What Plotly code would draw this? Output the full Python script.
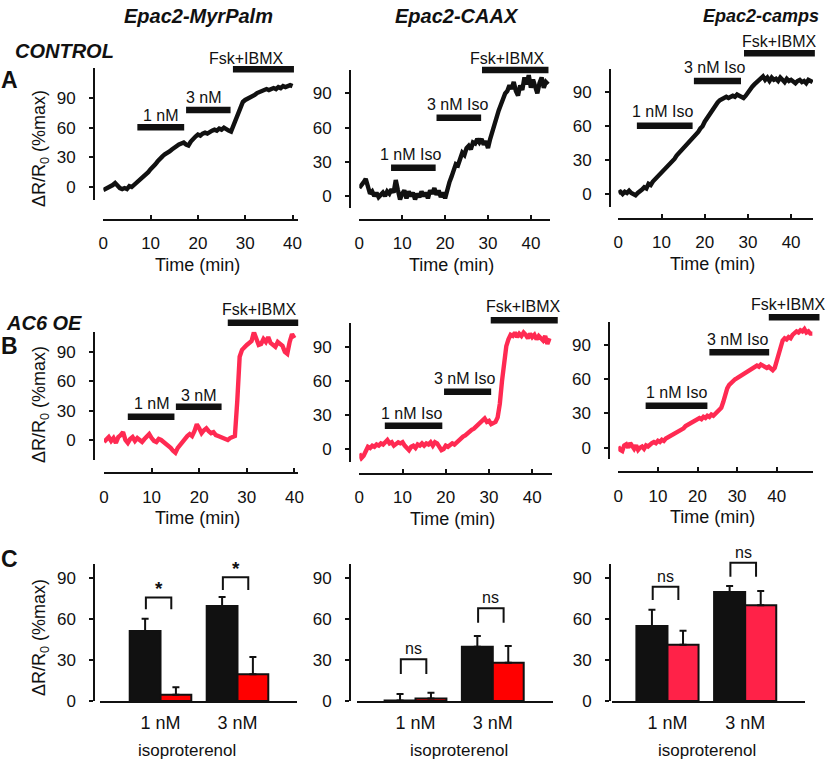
import plotly.graph_objects as go

# ---------------- data ----------------
STEP = 0.5  # sampling interval of the traces (min)

# Row A: CONTROL (black traces)
a1_myrpalm = [-3, -2, -1, 0, 2, 4, 1, -1, -2, -1, -2, 1, 0, 2, 4, 6, 8, 11, 13, 15,
              18, 20, 23, 26, 29, 31, 33, 34, 36, 38, 40, 41, 43, 44, 45, 43, 42, 46, 49, 51,
              53, 52, 54, 55, 54, 56, 57, 58, 57, 59, 58, 60, 58, 57, 56, 62, 70, 76, 82, 86,
              88, 89, 91, 92, 93, 95, 96, 97, 98, 99, 98, 99, 100, 99, 101, 100, 102, 101, 102, 103,
              102]
a2_caax = [7, 9, 12, 15, 8, 2, 4, 0, 3, -1, 1, 3, 0, 4, 2, 6, 3, 14, 5, -3,
           2, 5, -2, 4, 0, 3, -3, 2, -1, 4, 0, 3, -2, 5, 2, 7, 1, 5, -1, 3,
           -2, 6, 12, 17, 22, 28, 27, 34, 38, 36, 42, 44, 41, 47, 46, 50, 47, 50, 45, 48,
           42, 50, 57, 64, 70, 75, 80, 85, 90, 92, 97, 94, 100, 92, 88, 97, 93, 104, 98, 106,
           95, 102, 96, 90, 99, 104, 95, 100, 98]
a3_camps = [1, 2, 0, 2, 1, 3, 1, 0, -1, 1, 2, 4, 6, 5, 9, 8, 11, 13, 14, 16,
            18, 20, 22, 24, 27, 29, 31, 34, 36, 38, 41, 43, 45, 47, 49, 50, 53, 55, 58, 60,
            64, 67, 70, 73, 76, 79, 81, 83, 84, 85, 86, 85, 86, 87, 86, 88, 87, 86, 85, 87,
            90, 93, 95, 97, 99, 101, 102, 104, 101, 103, 100, 103, 101, 102, 100, 103, 101, 99, 102, 100,
            101, 99, 98, 100, 101, 99, 100, 98, 101, 100, 99]

# Row B: AC6 OE (red traces)
b1_myrpalm = [-2, 1, 3, -1, 2, -3, 3, 5, 8, 0, -3, 1, 3, -1, 2, 0, -2, 1, 3, 6,
              2, -1, -2, 1, 0, -2, -3, -5, -8, -11, -13, -8, -5, -1, 2, 4, 6, 4, 9, 16,
              12, 7, 10, 12, 9, 7, 8, 5, 4, 3, 2, 1, 0, 2, 3, 4, 40, 85, 92, 95,
              97, 99, 101, 110, 104, 97, 98, 103, 100, 105, 99, 97, 95, 100, 98, 96, 90, 88, 100, 108,
              104]
b2_caax = [-4, -8, -6, -1, 2, 1, 3, 2, 4, 3, 5, 4, 6, 8, 5, 6, 3, 4, 6, 5,
           6, 3, 1, -1, 2, 3, 1, 4, 3, 5, 3, 5, 4, 6, 3, 6, 5, 2, -1, 0,
           3, 2, 4, 5, 4, 6, 8, 9, 11, 12, 14, 15, 17, 18, 20, 21, 23, 25, 27, 24,
           25, 22, 23, 24, 28, 40, 60, 78, 91, 97, 101, 100, 103, 99, 102, 100, 103, 101, 98, 102,
           99, 101, 97, 100, 98, 96, 100, 93, 98]
b3_camps = [1, -2, -3, 2, 3, 0, 4, 1, -1, 2, -2, 0, 1, -1, 2, 1, 3, 4, 5, 4,
            6, 5, 7, 6, 8, 9, 10, 11, 11, 13, 14, 15, 16, 17, 19, 20, 21, 22, 23, 24,
            24, 26, 25, 27, 26, 28, 27, 29, 28, 30, 31, 33, 35, 40, 47, 52, 55, 57, 58, 60,
            61, 62, 63, 64, 66, 67, 68, 68, 70, 71, 72, 71, 73, 72, 71, 70, 71, 69, 68, 70,
            76, 83, 90, 94, 96, 95, 97, 96, 99, 100, 102, 101, 103, 102, 104, 101, 102, 100, 100]

# Drug applications: (label, start min, end min, bar level, label centre min, label level)
a1_drugs = [("1 nM", 7.2, 17.1, 60.4, 12.1, 71.8), ("3 nM", 17.5, 26.9, 77.9, 21.3, 90.3),
            ("Fsk+IBMX", 27.4, 40.3, 119.0, 30.2, 130.0)]
a2_drugs = [("1 nM Iso", 7.4, 17.8, 24.8, 12.0, 36.8), ("3 nM Iso", 18.0, 28.4, 68.7, 22.8, 80.4),
            ("Fsk+IBMX", 28.6, 44.1, 110.5, 34.6, 120.8)]
a3_drugs = [("1 nM Iso", 4.3, 17.2, 60.4, 10.2, 72.8), ("3 nM Iso", 17.5, 28.4, 100.0, 22.2, 111.8),
            ("Fsk+IBMX", 29.1, 45.5, 124.5, 37.4, 134.8)]
b1_drugs = [("1 nM", 5.0, 14.8, 23.8, 10.1, 37.4), ("3 nM", 15.1, 24.7, 34.0, 20.0, 45.9),
            ("Fsk+IBMX", 26.0, 40.8, 119.7, 32.6, 133.4)]
b2_drugs = [("1 nM Iso", 5.9, 19.2, 20.6, 12.0, 31.6), ("3 nM Iso", 19.6, 30.5, 50.7, 24.4, 62.6),
            ("Fsk+IBMX", 30.4, 45.9, 114.0, 37.9, 126.0)]
b3_drugs = [("1 nM Iso", 6.9, 22.5, 36.8, 14.7, 48.6), ("3 nM Iso", 23.0, 38.1, 83.7, 30.2, 94.5),
            ("Fsk+IBMX", 38.0, 50.8, 114.4, 43.0, 126.0)]

# Row C: summary bars
conc = ["1 nM", "3 nM"]
c1_control, c1_control_err = [51.4, 69.7], [9.0, 6.6]
c1_oe, c1_oe_err = [4.5, 19.6], [5.5, 12.7]
c2_control, c2_control_err = [0.3, 39.8], [4.8, 7.9]
c2_oe, c2_oe_err = [1.8, 28.1], [4.2, 12.2]
c3_control, c3_control_err = [55.0, 80.0], [12.0, 4.4]
c3_oe, c3_oe_err = [41.3, 70.3], [10.3, 10.4]
# significance brackets: (category index, leg bottom, bracket top, label)
c1_sig = [(0, 67.3, 76.0, "*"), (1, 81.5, 90.8, "*")]
c2_sig = [(0, 19.8, 30.6, "ns"), (1, 57.4, 68.0, "ns")]
c3_sig = [(0, 74.0, 83.8, "ns"), (1, 91.2, 101.5, "ns")]

time_ticks = [0, 10, 20, 30, 40]
value_ticks = [0, 30, 60, 90]
titles = ["Epac2-MyrPalm", "Epac2-CAAX", "Epac2-camps"]

# ---------------- layout geometry (pixels) ----------------
W, H = 828, 761
FONT = "Arial, 'Liberation Sans', Helvetica, sans-serif"
BLACK = "#111111"
RED_LINE = "#FF2A52"
RED_BAR = "#FF0000"
RED_BAR3 = "#FF2248"

P = {
    1: dict(xpx=(103.3, 298.2), xr=(0, 41.2), ypx=(68, 200), yr=(-13.1, 120.3), yline=94, xline=220),
    2: dict(xpx=(359.3, 550.2), xr=(0, 44.5), ypx=(70, 208), yr=(-10.5, 110.5), yline=350, xline=220),
    3: dict(xpx=(618.3, 813.0), xr=(0, 45.07), ypx=(69, 206.7), yr=(-11.2, 110.6), yline=610, xline=219),
    4: dict(xpx=(104, 297.5), xr=(0, 40.65), ypx=(331.7, 460), yr=(-20.4, 110.5), yline=94, xline=473.3),
    5: dict(xpx=(359.3, 551.7), xr=(0, 44.5), ypx=(323.3, 461.7), yr=(-11.2, 111.2), yline=350, xline=474),
    6: dict(xpx=(618.3, 813.3), xr=(0, 49.24), ypx=(321.7, 459.3), yr=(-10.2, 110.5), yline=609.3, xline=472.3),
    7: dict(xpx=(100, 297), xr=(-0.786, 1.773), ypx=(564, 701), yr=(0, 100.5), yline=94.3),
    8: dict(xpx=(357, 553), xr=(-0.757, 1.779), ypx=(564, 701), yr=(0, 100.5), yline=350),
    9: dict(xpx=(612, 805), xr=(-0.714, 1.77), ypx=(564, 701), yr=(0, 100.5), yline=610),
}


def fx(px):
    return px / W


def fy(py):
    return 1 - py / H


def tx(n, t):
    p = P[n]
    x0, x1 = p["xpx"]
    r0, r1 = p["xr"]
    return fx(x0 + (t - r0) / (r1 - r0) * (x1 - x0))


def vy(n, v):
    p = P[n]
    y0, y1 = p["ypx"]
    r0, r1 = p["yr"]
    return fy(y1 - (v - r0) / (r1 - r0) * (y1 - y0))


def ax_id(n, letter):
    return letter if n == 1 else f"{letter}{n}"


fig = go.Figure()
layout = dict(width=W, height=H, margin=dict(l=0, r=0, t=0, b=0, autoexpand=False),
              paper_bgcolor="white", plot_bgcolor="white", showlegend=False,
              barmode="group", bargap=0.2, bargroupgap=0.0,
              font=dict(family=FONT, color=BLACK, size=17))
shapes, annotations = [], []

# ---- traces panels ----
trace_sets = [(1, a1_myrpalm, BLACK, a1_drugs), (2, a2_caax, BLACK, a2_drugs), (3, a3_camps, BLACK, a3_drugs),
              (4, b1_myrpalm, RED_LINE, b1_drugs), (5, b2_caax, RED_LINE, b2_drugs), (6, b3_camps, RED_LINE, b3_drugs)]
for n, vals, col, drugs in trace_sets:
    p = P[n]
    times = [i * STEP for i in range(len(vals))]
    fig.add_trace(go.Scatter(x=times, y=vals, mode="lines", line=dict(color=col, width=4.4),
                             xaxis=ax_id(n, "x"), yaxis=ax_id(n, "y"), hoverinfo="skip"))
    xk = "xaxis" if n == 1 else f"xaxis{n}"
    yk = "yaxis" if n == 1 else f"yaxis{n}"
    layout[xk] = dict(domain=[fx(p["xpx"][0]), fx(p["xpx"][1])], range=list(p["xr"]),
                      anchor="free", position=fy(p["xline"]), showline=True, linewidth=2, linecolor=BLACK,
                      ticks="inside", ticklen=4, tickwidth=2, tickcolor=BLACK, tickvals=time_ticks,
                      tickfont=dict(size=17, color=BLACK), showgrid=False, zeroline=False,
                      ticklabelstandoff=8)
    layout[yk] = dict(domain=[fy(p["ypx"][1]), fy(p["ypx"][0])], range=list(p["yr"]),
                      anchor="free", position=fx(p["yline"]), showline=True, linewidth=2, linecolor=BLACK,
                      ticks="outside", ticklen=4, tickwidth=2, tickcolor=BLACK, tickvals=value_ticks,
                      tickfont=dict(size=17, color=BLACK), showgrid=False, zeroline=False,
                      ticklabelstandoff=10)
    for label, t0, t1, lvl, lt, llvl in drugs:
        shapes.append(dict(type="line", xref="paper", yref="paper", x0=tx(n, t0), x1=tx(n, t1),
                           y0=vy(n, lvl), y1=vy(n, lvl), line=dict(color=BLACK, width=6.5)))
        annotations.append(dict(text=label, xref="paper", yref="paper", x=tx(n, lt), y=vy(n, llvl),
                                xanchor="center", yanchor="middle", showarrow=False,
                                font=dict(size=16, color=BLACK)))
    # Time axis title
    cx = (p["xpx"][0] + p["xpx"][1]) / 2 - 3
    annotations.append(dict(text="Time (min)", xref="paper", yref="paper", x=fx(cx), y=fy(p["xline"] + 45),
                            xanchor="center", yanchor="middle", showarrow=False, font=dict(size=18)))

# ---- bar panels ----
bar_sets = [(7, c1_control, c1_control_err, c1_oe, c1_oe_err, RED_BAR, c1_sig),
            (8, c2_control, c2_control_err, c2_oe, c2_oe_err, RED_BAR, c2_sig),
            (9, c3_control, c3_control_err, c3_oe, c3_oe_err, RED_BAR3, c3_sig)]
for n, ctl, ctl_e, oe, oe_e, rcol, sig in bar_sets:
    p = P[n]
    for vals, errs, col in [(ctl, ctl_e, BLACK), (oe, oe_e, rcol)]:
        fig.add_trace(go.Bar(x=conc, y=vals, marker=dict(color=col, line=dict(color=BLACK, width=2)),
                             error_y=dict(type="data", array=errs, arrayminus=[0] * len(errs), symmetric=False,
                                          color=BLACK, thickness=2, width=3.5),
                             xaxis=ax_id(n, "x"), yaxis=ax_id(n, "y"), hoverinfo="skip"))
    xk, yk = f"xaxis{n}", f"yaxis{n}"
    layout[xk] = dict(domain=[fx(p["xpx"][0]), fx(p["xpx"][1])], range=list(p["xr"]), type="category",
                      anchor=ax_id(n, "y"), showline=True, linewidth=2, linecolor=BLACK, ticks="",
                      tickfont=dict(size=18, color=BLACK), showgrid=False, zeroline=False,
                      ticklabelstandoff=4)
    layout[yk] = dict(domain=[fy(p["ypx"][1]), fy(p["ypx"][0])], range=list(p["yr"]),
                      anchor="free", position=fx(p["yline"]), showline=True, linewidth=2, linecolor=BLACK,
                      ticks="outside", ticklen=4, tickwidth=2, tickcolor=BLACK, tickvals=value_ticks,
                      tickfont=dict(size=17, color=BLACK), showgrid=False, zeroline=False,
                      ticklabelstandoff=10)
    x0px, x1px = p["xpx"]
    r0, r1 = p["xr"]

    def cx(c):
        return fx(x0px + (c - r0) / (r1 - r0) * (x1px - x0px))

    for ci, lo, top, lab in sig:
        xl, xr_ = cx(ci - 0.19), cx(ci + 0.14)
        shapes.append(dict(type="path", xref="paper", yref="paper",
                           path=f"M {xl},{vy(n, lo)} L {xl},{vy(n, top)} L {xr_},{vy(n, top)} L {xr_},{vy(n, lo)}",
                           line=dict(color=BLACK, width=2)))
        is_star = lab == "*"
        annotations.append(dict(text=f"<b>{lab}</b>" if is_star else lab, xref="paper", yref="paper",
                                x=(xl + xr_) / 2, y=vy(n, top), xanchor="center", yanchor="bottom",
                                yshift=-4 if is_star else 0, showarrow=False,
                                font=dict(size=19 if is_star else 16, color=BLACK)))

# isoproterenol labels
for x_px in [186.7, 459.0, 706.7]:
    annotations.append(dict(text="isoproterenol", xref="paper", yref="paper", x=fx(x_px), y=fy(750),
                            xanchor="center", yanchor="middle", showarrow=False, font=dict(size=17)))

# y-axis titles
for y_px in [149, 405, 638]:
    annotations.append(dict(text="ΔR/R<sub>0</sub> (%max)", xref="paper", yref="paper", x=fx(40), y=fy(y_px),
                            xanchor="center", yanchor="middle", textangle=-90, showarrow=False,
                            font=dict(size=18)))

# column titles
for title, x_px, size in zip(titles, [198, 456.7, 761], [20, 20, 18]):
    annotations.append(dict(text=f"<b><i>{title}</i></b>", xref="paper", yref="paper", x=fx(x_px), y=fy(16),
                            xanchor="center", yanchor="middle", showarrow=False, font=dict(size=size)))

# row labels and panel letters
for text, x_px, y_px, size in [("<b><i>CONTROL</i></b>", 64, 51, 20), ("<b><i>AC6 OE</i></b>", 43.5, 323, 20),
                               ("<b>A</b>", 9, 80, 23), ("<b>B</b>", 9, 346, 23), ("<b>C</b>", 9, 559, 23)]:
    annotations.append(dict(text=text, xref="paper", yref="paper", x=fx(x_px), y=fy(y_px),
                            xanchor="center", yanchor="middle", showarrow=False, font=dict(size=size)))

layout["shapes"] = shapes
layout["annotations"] = annotations
fig.update_layout(**layout)
fig.write_html("out.html", config={"displayModeBar": False, "staticPlot": True},
               post_script="document.body.style.margin='0';document.body.style.overflow='hidden';")
